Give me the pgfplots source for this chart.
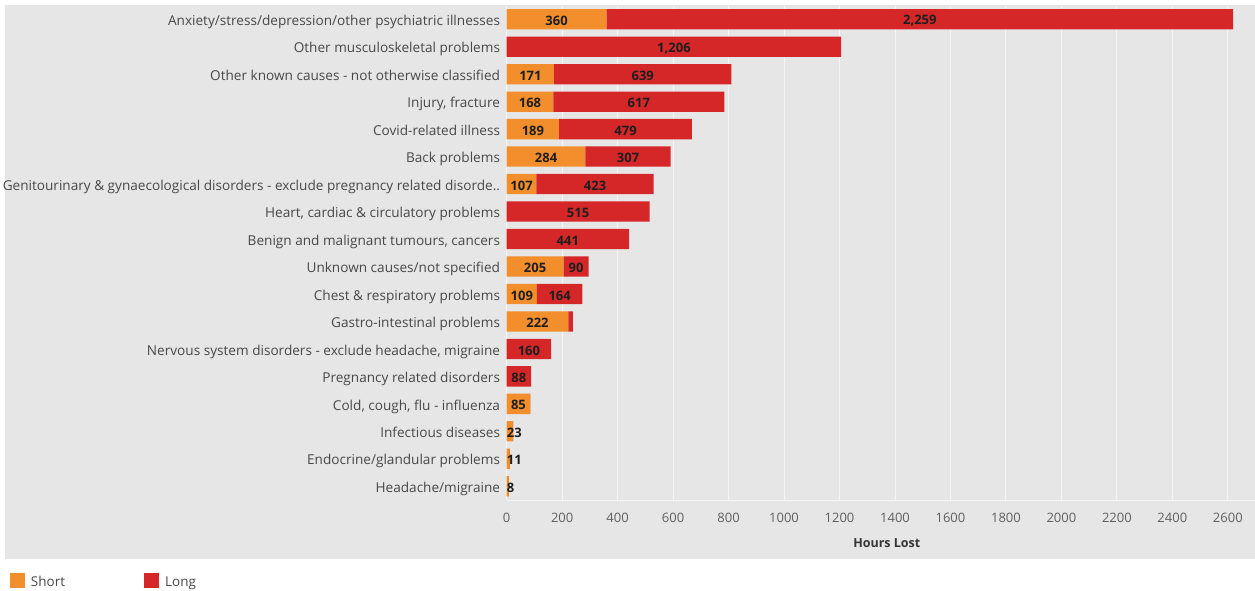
\documentclass[border=0pt]{standalone}
\usepackage{fontspec}
\setmainfont{Open Sans}
\usepackage{pgfplots}
\pgfplotsset{compat=1.18}
\usepackage{pgfplotstable}
\definecolor{shortc}{RGB}{242,142,43}
\definecolor{longc}{RGB}{214,39,40}
\definecolor{bgc}{RGB}{230,230,230}
\definecolor{gridc}{RGB}{244,244,244}
\definecolor{labc}{RGB}{72,72,72}
\definecolor{tickc}{RGB}{95,95,95}
\definecolor{numc}{RGB}{30,30,30}

\pgfplotstableread{
idx short long
0 360 2259
1 0 1206
2 171 639
3 168 617
4 189 479
5 284 307
6 107 423
7 0 515
8 0 441
9 205 90
10 109 164
11 222 17
12 0 160
13 0 88
14 85 0
15 23 0
16 11 0
17 8 0
}\hours

% print the point meta only if it lies in [#1,#2]
\newcommand\labif[2]{%
  \pgfmathfloattofixed{\pgfplotspointmeta}\edef\labv{\pgfmathresult}%
  \ifdim\labv pt<#1pt\relax\else\ifdim\labv pt>#2pt\relax\else
  \pgfmathprintnumber[1000 sep={,}]{\pgfplotspointmeta}\fi\fi}

\begin{document}
\begin{tikzpicture}[x=1pt,y=1pt]
\path[use as bounding box] (0,0) rectangle (1255,591);
\fill[bgc] (5,32) rectangle (1255,585.5);
\begin{axis}[
  at={(506.7pt,91pt)}, anchor=south west,
  scale only axis, width=748.3pt, height=494.5pt,
  xmin=0, xmax=2698, ymin=-0.5, ymax=17.5, y dir=reverse,
  clip=false,
  axis x line*=bottom, axis y line*=left,
  x axis line style={draw=gridc, line width=1pt, -},
  y axis line style={draw=none, -},
  xtick={0,200,...,2600},
  ytick={0,...,17},
  yticklabels={
    Anxiety/stress/depression/other psychiatric illnesses,
    Other musculoskeletal problems,
    Other known causes - not otherwise classified,
    {Injury, fracture},
    Covid-related illness,
    Back problems,
    Genitourinary \& gynaecological disorders - exclude pregnancy related disorde..,
    {Heart, cardiac \& circulatory problems},
    {Benign and malignant tumours, cancers},
    Unknown causes/not specified,
    Chest \& respiratory problems,
    Gastro-intestinal problems,
    {Nervous system disorders - exclude headache, migraine},
    Pregnancy related disorders,
    {Cold, cough, flu - influenza},
    Infectious diseases,
    Endocrine/glandular problems,
    Headache/migraine},
  major tick length=0pt,
  tick style={draw=none},
  xmajorgrids, grid style={draw=gridc, line width=1pt},
  /pgf/number format/1000 sep={},
  /pgf/number format/assume math mode=true,
  xticklabel style={font=\fontsize{13}{15}\selectfont, text=tickc, inner sep=0pt, yshift=-12.5pt},
  yticklabel style={font=\fontsize{13.6}{15}\selectfont, text=labc, inner sep=0pt, anchor=mid east, xshift=-6.5pt, yshift=-3.5pt},
  xlabel={\bfseries Hours Lost},
  xlabel style={at={(axis description cs:0.508,-0.087)}, anchor=center, font=\fontsize{12.5}{14}\selectfont, text=numc!90},
  legend columns=2,
  legend style={draw=none, fill=none, at={(axis description cs:-0.6638,-0.1628)}, anchor=west,
    inner sep=0pt, outer sep=0pt,
    font=\fontsize{13.5}{15}\selectfont, text=labc,
    nodes={inner sep=0pt},
    /tikz/every odd column/.append style={column sep=6pt},
    /tikz/every even column/.append style={column sep=79pt}},
]
\addplot[xbar, stack plots=x, bar shift=0pt, bar width=20.3pt, fill=shortc, draw=none,
  legend image code/.code={\fill[shortc] (0pt,-5pt) rectangle (15pt,10pt);}]
  table[x=short, y=idx] {\hours};
\addlegendentry{Short}
\addplot[xbar, stack plots=x, bar shift=0pt, bar width=20.3pt, fill=longc, draw=none,
  legend image code/.code={\fill[longc] (0pt,-5pt) rectangle (15pt,10pt);}]
  table[x=long, y=idx] {\hours};
\addlegendentry{Long}

% labels for long segments, centred
\addplot[forget plot, draw=none, mark=none, point meta=explicit,
  nodes near coords={\labif{30}{9000}},
  every node near coord/.append style={anchor=center, yshift=-1.5pt, font=\fontsize{13}{15}\selectfont\bfseries, text=numc, inner sep=0pt}]
  table[x expr=\thisrow{short}+\thisrow{long}/2, y=idx, meta=long] {\hours};
% labels for short segments that fit, centred
\addplot[forget plot, draw=none, mark=none, point meta=explicit,
  nodes near coords={\labif{40}{9000}},
  every node near coord/.append style={anchor=center, yshift=-1.5pt, font=\fontsize{13}{15}\selectfont\bfseries, text=numc, inner sep=0pt}]
  table[x expr=\thisrow{short}/2, y=idx, meta=short] {\hours};
% labels for short segments too narrow, set from the bar start
\addplot[forget plot, draw=none, mark=none, point meta=explicit,
  nodes near coords={\labif{1}{39}},
  every node near coord/.append style={anchor=west, yshift=-1.5pt, font=\fontsize{13}{15}\selectfont\bfseries, text=numc, inner sep=0pt}]
  table[x expr=0, y=idx, meta=short] {\hours};
\end{axis}
\end{tikzpicture}
\end{document}
